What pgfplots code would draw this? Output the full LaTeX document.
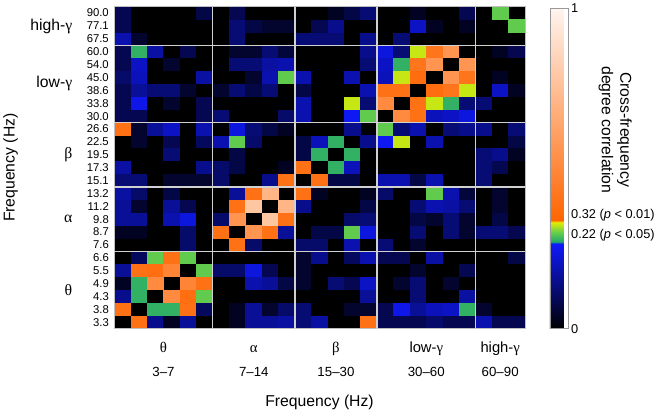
\documentclass[border=0pt]{standalone}
\usepackage{pgfplots}
\pgfplotsset{compat=1.18}
\usepackage{pgfplotstable}
\usepackage{fontspec}
\setmainfont{Liberation Sans}
\newfontfamily\grk{Liberation Serif}

\pgfdeclareplotmark{cell}{\pgfpathrectangle{\pgfqpoint{-8.45bp}{-6.65bp}}{\pgfqpoint{16.9bp}{13.3bp}}\pgfusepathqfill}

% lower triangle of the symmetric cross-frequency degree correlation matrix
% r = row index (0 = 3.3 Hz ... 24 = 90.0 Hz), c = column index, z = correlation
\pgfplotstableread[row sep=\\]{
r c z\\
1 0 0.38\\
2 0 0.12\\2 1 0.235\\
3 0 0.03\\3 1 0.235\\3 2 0.5\\
4 0 0.13\\4 1 0.38\\4 2 0.37\\4 3 0.47\\
5 0 0\\5 1 0.08\\5 2 0.265\\5 3 0.38\\5 4 0.265\\
6 0 0\\6 1 0\\6 2 0\\6 3 0\\6 4 0.09\\6 5 0\\
7 0 0.03\\7 1 0.03\\7 2 0\\7 3 0\\7 4 0.09\\7 5 0\\7 6 0.38\\
8 0 0.13\\8 1 0.13\\8 2 0\\8 3 0.15\\8 4 0.19\\8 5 0\\8 6 0.09\\8 7 0.55\\
9 0 0.13\\9 1 0.04\\9 2 0\\9 3 0.13\\9 4 0.07\\9 5 0\\9 6 0\\9 7 0.38\\9 8 0.78\\
10 0 0.14\\10 1 0.09\\10 2 0\\10 3 0.06\\10 4 0\\10 5 0\\10 6 0\\10 7 0.13\\10 8 0.38\\10 9 0.7\\
11 0 0.1\\11 1 0.1\\11 2 0\\11 3 0.04\\11 4 0.04\\11 5 0.04\\11 6 0.09\\11 7 0\\11 8 0\\11 9 0.12\\11 10 0.38\\
12 0 0.14\\12 1 0\\12 2 0\\12 3 0\\12 4 0\\12 5 0.12\\12 6 0.09\\12 7 0.06\\12 8 0\\12 9 0\\12 10 0.03\\12 11 0.38\\
13 0 0\\13 1 0\\13 2 0\\13 3 0.1\\13 4 0\\13 5 0\\13 6 0\\13 7 0.06\\13 8 0\\13 9 0\\13 10 0\\13 11 0.06\\13 12 0.235\\
14 0 0\\14 1 0.04\\14 2 0\\14 3 0.07\\14 4 0\\14 5 0.08\\14 6 0.15\\14 7 0.265\\14 8 0.09\\14 9 0\\14 10 0\\14 11 0.06\\14 12 0.16\\14 13 0.235\\
15 0 0.38\\15 1 0.04\\15 2 0.13\\15 3 0.17\\15 4 0\\15 5 0.15\\15 6 0\\15 7 0.19\\15 8 0.1\\15 9 0.06\\15 10 0.03\\15 11 0\\15 12 0\\15 13 0\\15 14 0.12\\
16 0 0.07\\16 1 0.07\\16 2 0\\16 3 0\\16 4 0\\16 5 0.07\\16 6 0.1\\16 7 0\\16 8 0\\16 9 0\\16 10 0.09\\16 11 0.15\\16 12 0\\16 13 0\\16 14 0.21\\16 15 0.265\\
17 0 0.07\\17 1 0.2\\17 2 0\\17 3 0.04\\17 4 0\\17 5 0.07\\17 6 0\\17 7 0\\17 8 0\\17 9 0\\17 10 0\\17 11 0.15\\17 12 0\\17 13 0\\17 14 0.305\\17 15 0.1\\17 16 0.5\\
18 0 0.07\\18 1 0.13\\18 2 0.1\\18 3 0.1\\18 4 0.04\\18 5 0\\18 6 0.04\\18 7 0.1\\18 8 0.06\\18 9 0.1\\18 10 0\\18 11 0.06\\18 12 0\\18 13 0\\18 14 0\\18 15 0.15\\18 16 0.38\\18 17 0.38\\
19 0 0.09\\19 1 0.16\\19 2 0\\19 3 0\\19 4 0\\19 5 0.14\\19 6 0\\19 7 0\\19 8 0.04\\19 9 0.15\\19 10 0.265\\19 11 0.15\\19 12 0\\19 13 0\\19 14 0.15\\19 15 0\\19 16 0.16\\19 17 0.305\\19 18 0.36\\
20 0 0.07\\20 1 0.17\\20 2 0\\20 3 0.04\\20 4 0\\20 5 0\\20 6 0\\20 7 0.1\\20 8 0.1\\20 9 0.14\\20 10 0.15\\20 11 0\\20 12 0\\20 13 0\\20 14 0\\20 15 0.1\\20 16 0.17\\20 17 0.235\\20 18 0.4\\20 19 0.55\\
21 0 0.07\\21 1 0.235\\21 2 0.14\\21 3 0\\21 4 0.07\\21 5 0\\21 6 0\\21 7 0.04\\21 8 0.04\\21 9 0.1\\21 10 0.05\\21 11 0\\21 12 0\\21 13 0\\21 14 0\\21 15 0.12\\21 16 0.19\\21 17 0.1\\21 18 0.305\\21 19 0.4\\21 20 0.55\\
22 0 0.15\\22 1 0.04\\22 2 0\\22 3 0\\22 4 0\\22 5 0\\22 6 0\\22 7 0.1\\22 8 0\\22 9 0\\22 10 0\\22 11 0.1\\22 12 0.1\\22 13 0.1\\22 14 0\\22 15 0.12\\22 16 0\\22 17 0.1\\22 18 0\\22 19 0\\22 20 0\\22 21 0\\
23 0 0.07\\23 1 0\\23 2 0\\23 3 0\\23 4 0\\23 5 0\\23 6 0\\23 7 0.1\\23 8 0.06\\23 9 0.04\\23 10 0.04\\23 11 0\\23 12 0.07\\23 13 0.12\\23 14 0\\23 15 0\\23 16 0\\23 17 0\\23 18 0.17\\23 19 0.03\\23 20 0\\23 21 0.03\\23 22 0\\
24 0 0.07\\24 1 0\\24 2 0\\24 3 0\\24 4 0\\24 5 0.06\\24 6 0\\24 7 0.07\\24 8 0\\24 9 0\\24 10 0\\24 11 0\\24 12 0\\24 13 0.03\\24 14 0.06\\24 15 0.1\\24 16 0\\24 17 0\\24 18 0.03\\24 19 0\\24 20 0\\24 21 0.07\\24 22 0\\24 23 0.265\\
}\cfd

\begin{document}
\begin{tikzpicture}
\path (-114bp,-86bp) rectangle (544bp,333bp);
\begin{axis}[
  at={(0,0)}, anchor=south west,
  set layers=standard,
  scale only axis, x=16.64bp, y=13.05bp,
  xmin=-0.5, xmax=24.5, ymin=-0.5, ymax=24.5,
  clip=false, axis on top,
  axis background/.style={fill=black},
  axis line style={draw=white!75!black, line width=0.5bp},
  xtick=\empty,
  ytick={0,...,24},
  yticklabels={3.3,3.8,4.3,4.9,5.5,6.6,7.6,8.7,9.8,11.2,13.2,15.1,17.3,19.5,22.5,26.6,30.0,33.8,38.6,45.0,54.0,60.0,67.5,77.1,90.0},
  yticklabel style={font=\fontsize{11.5}{13}\selectfont, xshift=-2bp},
  major tick length=0pt,
  colormap={cfd}{rgb255(0cm)=(0,0,0) rgb255(2.68cm)=(15,25,255) rgb255(2.69cm)=(30,165,110) rgb255(3.0cm)=(100,205,75) rgb255(3.34cm)=(235,240,0) rgb255(3.35cm)=(255,100,0) rgb255(10cm)=(255,245,240)},
  point meta min=0, point meta max=1,
  colorbar,
  colorbar style={
    at={(parent axis.south east)}, anchor=south west, xshift=17bp,
    width=18bp, height=325bp,
    ytick={0,0.292,0.354,1},
    yticklabels={0,{0.22 (\textit{p} < 0.05)},{0.32 (\textit{p} < 0.01)},1},
    yticklabel style={font=\fontsize{13}{15}\selectfont},
    major tick length=0pt,
    axis line style={draw=black!40, line width=0.5bp},
    ylabel={Cross-frequency\\degree correlation},
    ylabel style={font=\fontsize{16}{19}\selectfont, align=center, rotate=180, at={(axis description cs:3.67,0.62)}, anchor=center},
  },
  xlabel={Frequency (Hz)},
  xlabel style={font=\fontsize{16}{18}\selectfont, at={(axis description cs:0.5,-0.2421)}, anchor=base},
  ylabel={Frequency (Hz)},
  ylabel style={font=\fontsize{16}{18}\selectfont, at={(axis description cs:-0.2524,0.5)}, anchor=center},
]
\addplot[scatter, only marks, mark=cell,
  scatter/use mapped color={draw=none, fill=mapped color},
  point meta={\thisrow{z}<0.22 ? \thisrow{z}*1.21818 : (\thisrow{z}<0.32 ? 0.268+(\thisrow{z}-0.22)*0.67 : 0.335+(\thisrow{z}-0.32)*0.97794)}]
  table[x=c, y=r] {\cfd};
\addplot[scatter, only marks, mark=cell,
  scatter/use mapped color={draw=none, fill=mapped color},
  point meta={\thisrow{z}<0.22 ? \thisrow{z}*1.21818 : (\thisrow{z}<0.32 ? 0.268+(\thisrow{z}-0.22)*0.67 : 0.335+(\thisrow{z}-0.32)*0.97794)}]
  table[x=r, y=c] {\cfd};
% band separators
\begin{pgfonlayer}{axis foreground}
\draw[white!82!black, line width=1.3bp] (axis cs:5.5,-0.5) -- (axis cs:5.5,24.5);
\draw[white!82!black, line width=1.3bp] (axis cs:10.5,-0.5) -- (axis cs:10.5,24.5);
\draw[white!82!black, line width=1.3bp] (axis cs:15.5,-0.5) -- (axis cs:15.5,24.5);
\draw[white!82!black, line width=1.3bp] (axis cs:21.5,-0.5) -- (axis cs:21.5,24.5);
\draw[white!82!black, line width=1.3bp] (axis cs:-0.5,5.5) -- (axis cs:24.5,5.5);
\draw[white!82!black, line width=1.3bp] (axis cs:-0.5,10.5) -- (axis cs:24.5,10.5);
\draw[white!82!black, line width=1.3bp] (axis cs:-0.5,15.5) -- (axis cs:24.5,15.5);
\draw[white!82!black, line width=1.3bp] (axis cs:-0.5,21.5) -- (axis cs:24.5,21.5);
\end{pgfonlayer}
% band labels, y side
\node[anchor=east, font=\fontsize{16}{18}\selectfont, xshift=-39bp] at (axis cs:-0.5,23) {high-{\grk γ}};
\node[anchor=east, font=\fontsize{16}{18}\selectfont, xshift=-39bp] at (axis cs:-0.5,18.5) {low-{\grk γ}};
\node[anchor=east, font=\fontsize{16}{18}\selectfont\grk, xshift=-39bp] at (axis cs:-0.5,13) {β};
\node[anchor=east, font=\fontsize{16}{18}\selectfont\grk, xshift=-39bp] at (axis cs:-0.5,8) {α};
\node[anchor=east, font=\fontsize{16}{18}\selectfont\grk, xshift=-39bp] at (axis cs:-0.5,2.5) {θ};
% band labels, x side
\node[anchor=base, font=\fontsize{15}{17}\selectfont\grk, yshift=-24bp] at (axis cs:2.5,-0.5) {θ};
\node[anchor=base, font=\fontsize{15}{17}\selectfont\grk, yshift=-24bp] at (axis cs:8,-0.5) {α};
\node[anchor=base, font=\fontsize{15}{17}\selectfont\grk, yshift=-24bp] at (axis cs:13,-0.5) {β};
\node[anchor=base, font=\fontsize{15}{17}\selectfont, yshift=-24bp] at (axis cs:18.5,-0.5) {low-{\grk γ}};
\node[anchor=base, font=\fontsize{15}{17}\selectfont, yshift=-24bp] at (axis cs:23,-0.5) {high-{\grk γ}};
\node[anchor=base, font=\fontsize{13.5}{15}\selectfont, yshift=-48bp] at (axis cs:2.5,-0.5) {3–7};
\node[anchor=base, font=\fontsize{13.5}{15}\selectfont, yshift=-48bp] at (axis cs:8,-0.5) {7–14};
\node[anchor=base, font=\fontsize{13.5}{15}\selectfont, yshift=-48bp] at (axis cs:13,-0.5) {15–30};
\node[anchor=base, font=\fontsize{13.5}{15}\selectfont, yshift=-48bp] at (axis cs:18.5,-0.5) {30–60};
\node[anchor=base, font=\fontsize{13.5}{15}\selectfont, yshift=-48bp] at (axis cs:23,-0.5) {60–90};
\end{axis}
\end{tikzpicture}
\end{document}
